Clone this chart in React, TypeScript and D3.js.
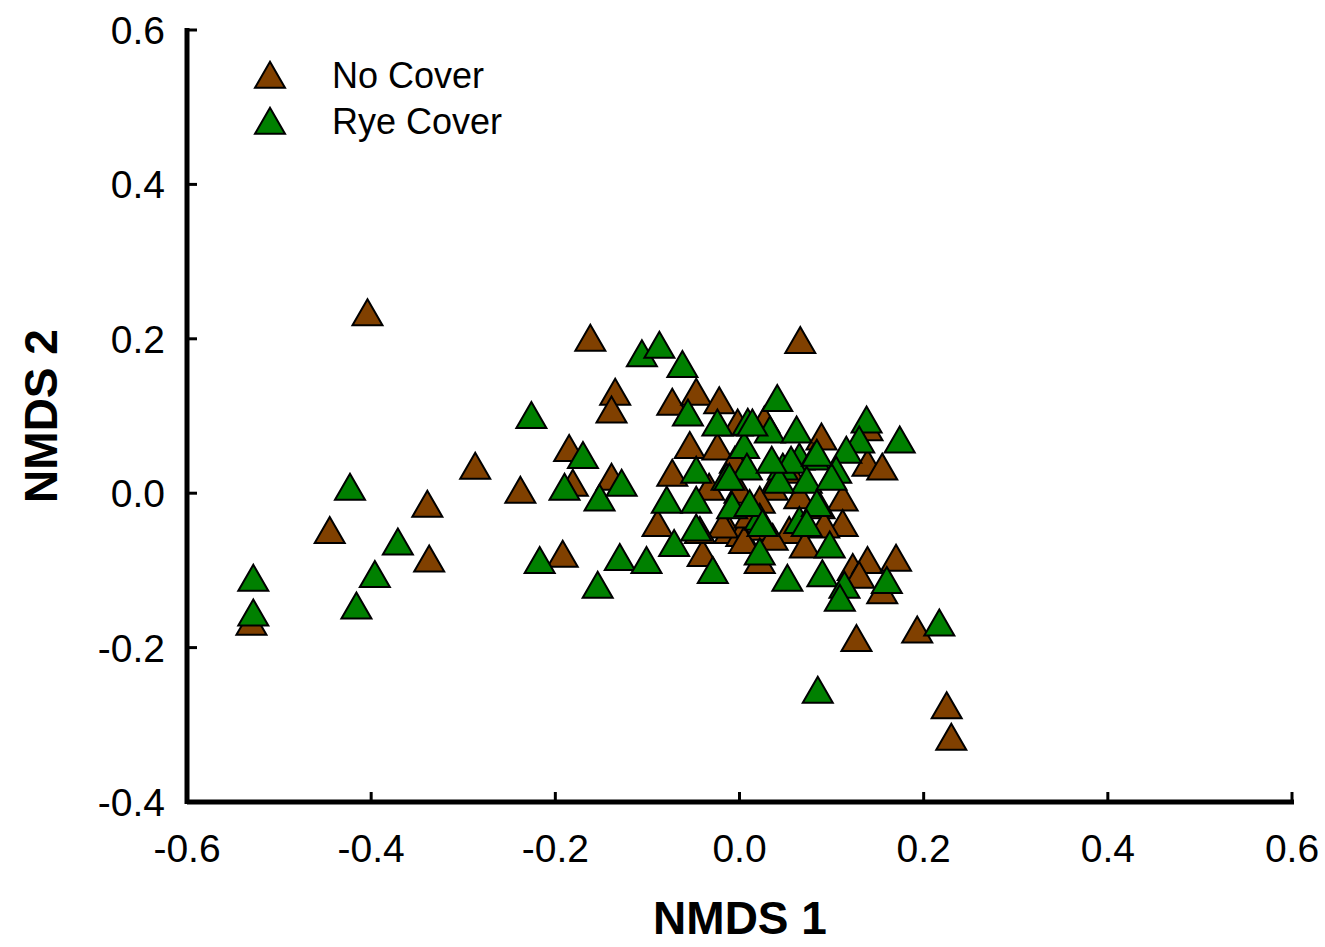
import * as React from 'react'
import * as d3 from 'd3'

// NMDS scores
const noCoverX = [
  -0.404, -0.53, -0.445, -0.339, -0.337, -0.287, -0.238, -0.192, -0.185, -0.181,
  -0.162, -0.135, -0.139, -0.139, -0.089, -0.073, -0.047, -0.022, -0.054, -0.024,
  -0.073, -0.04, -0.011, 0.002, -0.002, 0.027, 0.066, 0.089, 0.139, 0.139,
  0.155, 0.112, 0.112, 0.123, 0.139, 0.17, 0.155, 0.13, 0.022, 0.127,
  0.193, 0.225, 0.23, -0.033, 0.036, 0.025, 0.054, -0.018, 0.036, 0.005,
  0.022, 0.065, 0.087, -0.005, 0.054, 0.011, 0.071, 0.092, 0.0, -0.043,
]
const noCoverY = [
  0.234, -0.167, -0.048, -0.014, -0.085, 0.035, 0.004, -0.079, 0.058, 0.013,
  0.201, 0.131, 0.108, 0.021, -0.039, 0.118, 0.131, 0.12, 0.062, 0.06,
  0.026, -0.078, -0.048, -0.052, 0.091, 0.095, 0.198, 0.073, 0.085, 0.039,
  0.034, -0.006, -0.039, -0.096, -0.087, -0.084, -0.126, -0.106, -0.087, -0.188,
  -0.177, -0.275, -0.316, 0.008, 0.008, -0.044, -0.048, -0.041, -0.057, -0.061,
  -0.009, -0.003, -0.016, 0.043, 0.03, -0.028, -0.067, -0.041, 0.004, -0.048,
]

const ryeCoverX = [
  -0.528, -0.528, -0.423, -0.416, -0.396, -0.371, -0.226, -0.217, -0.19, -0.17,
  -0.152, -0.154, -0.128, -0.13, -0.101, -0.106, -0.087, -0.062, -0.079, -0.071,
  -0.047, -0.029, -0.047, -0.056, -0.024, 0.041, 0.009, 0.033, 0.062, 0.005,
  0.008, -0.014, -0.047, 0.047, 0.065, 0.138, 0.13, 0.081, 0.116, 0.056,
  0.105, 0.073, 0.174, -0.008, 0.022, 0.011, 0.043, 0.022, 0.065, 0.1,
  0.084, 0.073, 0.098, 0.025, 0.052, 0.09, 0.114, 0.109, 0.16, 0.217,
  0.085, 0.014, 0.084, 0.035, -0.011,
]
const ryeCoverY = [
  -0.11, -0.155, 0.008, -0.146, -0.105, -0.063, 0.101, -0.087, 0.008, 0.049,
  -0.006, -0.119, 0.013, -0.083, -0.087, 0.181, 0.192, 0.167, -0.009, -0.065,
  -0.045, -0.1, -0.009, 0.104, 0.091, 0.123, 0.092, 0.082, 0.082, 0.062,
  0.034, 0.021, 0.03, 0.034, 0.047, 0.095, 0.069, 0.047, 0.056, 0.043,
  0.03, 0.017, 0.069, -0.016, -0.031, -0.013, 0.017, -0.076, -0.035, 0.021,
  -0.013, -0.039, -0.067, -0.039, -0.11, -0.104, -0.119, -0.136, -0.113, -0.168,
  -0.255, 0.091, 0.052, 0.043, 0.021,
]

const xTicks = [-0.6, -0.4, -0.2, 0.0, 0.2, 0.4, 0.6]
const yTicks = [-0.4, -0.2, 0.0, 0.2, 0.4, 0.6]

const seriesNames = ['No Cover', 'Rye Cover']
const seriesColors = ['#804000', '#008000']

const W = 1325
const H = 947
const left = 187
const right = 1292
const top = 30
const bottom = 802

const FONT = '"Liberation Sans", Arial, sans-serif'
const fmt = (t: number) => d3.format('.1f')(t).replace('−', '-')

export default function App() {
  const x = d3.scaleLinear().domain([-0.6, 0.6]).range([left, right])
  const y = d3.scaleLinear().domain([-0.4, 0.6]).range([bottom, top])
  const tri = d3.symbol(d3.symbolTriangle, 390)()
  const series = [
    d3.zip(noCoverX, noCoverY),
    d3.zip(ryeCoverX, ryeCoverY),
  ]

  return (
    <svg width={W} height={H} style={{ position: 'absolute', left: 0, top: 0, background: '#fff' }}>
      <rect width={W} height={H} fill="#fff" />

      {/* points */}
      {series.map((pts, si) => (
        <g key={si}>
          {pts.map((p, i) => (
            <path
              key={i}
              d={tri as string}
              transform={`translate(${x(p[0])},${y(p[1]) + 4})`}
              fill={seriesColors[si]}
              stroke="#000"
              strokeWidth={2}
            />
          ))}
        </g>
      ))}

      {/* axes */}
      <line x1={left} x2={right + 2} y1={bottom} y2={bottom} stroke="#000" strokeWidth={5} />
      <line x1={left} x2={left} y1={top - 2} y2={bottom + 2} stroke="#000" strokeWidth={5} />
      {xTicks.map(t => (
        <g key={'x' + t}>
          <line x1={x(t)} x2={x(t)} y1={bottom} y2={bottom - 10} stroke="#000" strokeWidth={3} />
          <text x={x(t)} y={862} textAnchor="middle" fontFamily={FONT} fontSize={39}>
            {fmt(t)}
          </text>
        </g>
      ))}
      {yTicks.map(t => (
        <g key={'y' + t}>
          <line x1={left} x2={left + 10} y1={y(t)} y2={y(t)} stroke="#000" strokeWidth={3} />
          <text x={165} y={y(t)} dy="0.36em" textAnchor="end" fontFamily={FONT} fontSize={39}>
            {fmt(t)}
          </text>
        </g>
      ))}

      {/* axis titles */}
      <text x={740} y={934} textAnchor="middle" fontFamily={FONT} fontWeight="bold" fontSize={46}>
        NMDS 1
      </text>
      <text
        transform={`translate(57,${y(0.1)}) rotate(-90)`}
        textAnchor="middle"
        fontFamily={FONT}
        fontWeight="bold"
        fontSize={46}
      >
        NMDS 2
      </text>

      {/* legend */}
      {seriesNames.map((name, i) => (
        <g key={name} transform={`translate(0,${i * 46})`}>
          <path d={tri as string} transform="translate(270,79)" fill={seriesColors[i]} stroke="#000" strokeWidth={2} />
          <text x={332} y={88} fontFamily={FONT} fontSize={36}>{name}</text>
        </g>
      ))}
    </svg>
  )
}
